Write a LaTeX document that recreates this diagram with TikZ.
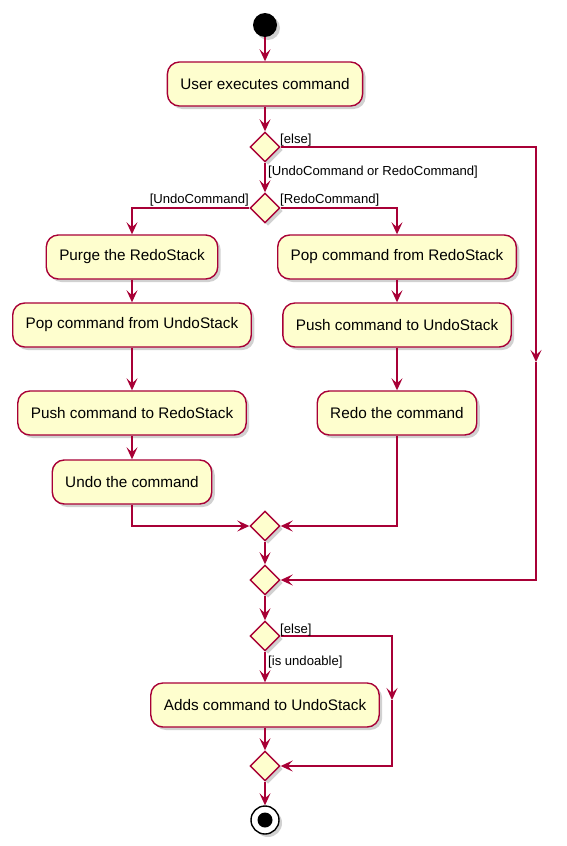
\documentclass[tikz,border=0pt]{standalone}
\usepackage{fontspec}
\setmainfont{Liberation Sans}
\usetikzlibrary{arrows.meta,shapes.geometric,shadows}
\definecolor{pborder}{HTML}{A80036}
\definecolor{pfill}{HTML}{FEFECE}
\begin{document}
\begin{tikzpicture}[x=1pt,y=-1pt,
 shad/.style={drop shadow={shadow xshift=3pt,shadow yshift=-3pt,opacity=0.3,fill=black!60}},
 act/.style={draw=pborder,fill=pfill,line width=1.4pt,rounded corners=12pt,minimum height=44pt,inner xsep=13pt,font=\fontsize{15.3}{18}\selectfont,shad},
 dia/.style={diamond,draw=pborder,fill=pfill,line width=1.4pt,minimum width=30pt,minimum height=30pt,inner sep=0pt,shad},
 flow/.style={draw=pborder,line width=1.4pt,-{Stealth[length=12pt,width=11pt,inset=5pt]}},
 lab/.style={font=\fontsize{13.1}{15}\selectfont,inner sep=0pt}]
\useasboundingbox (0,0) rectangle (566,846);
\node[circle,fill=black,minimum size=24pt,inner sep=0pt,shad] (start) at (265,25) {};
\node[act] (a0) at (265,84) {User executes command};
\node[dia] (d1) at (265,147) {};
\node[dia] (d2) at (265,208) {};
\node[act] (l1) at (132,257) {Purge the RedoStack};
\node[act] (l2) at (132,325) {Pop command from UndoStack};
\node[act] (l3) at (132,413) {Push command to RedoStack};
\node[act] (l4) at (132,482) {Undo the command};
\node[act] (r1) at (397,257) {Pop command from RedoStack};
\node[act] (r2) at (397,325) {Push command to UndoStack};
\node[act] (r3) at (397,413) {Redo the command};
\node[dia] (d3) at (265,526) {};
\node[dia] (d4) at (265,580) {};
\node[dia] (d5) at (265,636) {};
\node[act] (u) at (265,705) {Adds command to UndoStack};
\node[dia] (d6) at (265,766) {};
\node[circle,draw=black,fill=white,line width=1.4pt,minimum size=28pt,inner sep=0pt,shad] (end) at (265,820) {};
\node[circle,fill=black,minimum size=15pt,inner sep=0pt] (endin) at (end.center) {};
\draw[flow] (start) -- (a0);
\draw[flow] (a0) -- (d1);
\draw[flow] (d1) -- (d2);
\coordinate (e1) at (536,362);
\draw[flow] (d1.east) -- (d1.east -| e1) -- (e1);
\draw[flow] (e1) |- (d4.east);
\draw[flow] (d2.west) -| (l1.north);
\draw[flow] (d2.east) -| (r1.north);
\draw[flow] (l1) -- (l2);
\draw[flow] (l2) -- (l3);
\draw[flow] (l3) -- (l4);
\draw[flow] (l4.south) |- (d3.west);
\draw[flow] (r1) -- (r2);
\draw[flow] (r2) -- (r3);
\draw[flow] (r3.south) |- (d3.east);
\draw[flow] (d3) -- (d4);
\draw[flow] (d4) -- (d5);
\draw[flow] (d5) -- (u);
\draw[flow] (u) -- (d6);
\draw[flow] (d6) -- (end);
\coordinate (e2) at (392,700);
\draw[flow] (d5.east) -- (d5.east -| e2) -- (e2);
\draw[flow] (e2) |- (d6.east);
\node[lab,anchor=base west] (t1) at (280,143) {[else]};
\node[lab,anchor=base west] (t2) at (268,175) {[UndoCommand or RedoCommand]};
\node[lab,anchor=base east] (t3) at (249,203) {[UndoCommand]};
\node[lab,anchor=base west] (t4) at (280,203) {[RedoCommand]};
\node[lab,anchor=base west] (t5) at (280,633) {[else]};
\node[lab,anchor=base west] (t6) at (268,665) {[is undoable]};
\end{tikzpicture}
\end{document}
